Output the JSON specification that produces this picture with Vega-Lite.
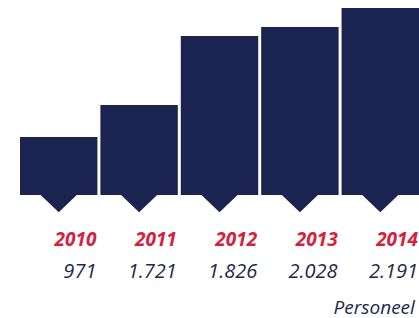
{
  "$schema": "https://vega.github.io/schema/vega-lite/v6.json",
  "width": 399,
  "height": 318,
  "autosize": {"type": "none"},
  "padding": {"left": 20, "top": 0, "right": 0, "bottom": 0},
  "background": "white",
  "config": {"view": {"stroke": null}},
  "data": {
    "values": [
      {"jaar": "2010", "omvang": 58, "personeel": "971"},
      {"jaar": "2011", "omvang": 90, "personeel": "1.721"},
      {"jaar": "2012", "omvang": 159, "personeel": "1.826"},
      {"jaar": "2013", "omvang": 168, "personeel": "2.028"},
      {"jaar": "2014", "omvang": 187, "personeel": "2.191"}
    ]
  },
  "encoding": {
    "x": {
      "field": "jaar",
      "type": "nominal",
      "axis": null,
      "scale": {"paddingInner": 0.037, "paddingOuter": 0}
    }
  },
  "layer": [
    {
      "mark": {"type": "bar", "color": "#1b2350"},
      "encoding": {
        "y": {
          "field": "omvang",
          "type": "quantitative",
          "axis": null,
          "scale": {"domain": [-123, 195], "nice": false, "zero": false}
        },
        "y2": {"datum": 0}
      }
    },
    {
      "mark": {
        "type": "point",
        "shape": "M-1,0L1,0L0,0.95Z",
        "size": 1300,
        "filled": true,
        "opacity": 1,
        "color": "#1b2350"
      },
      "encoding": {"y": {"datum": 0}}
    },
    {
      "mark": {
        "type": "text",
        "align": "right",
        "baseline": "middle",
        "font": "Open Sans",
        "fontSize": 19,
        "fontWeight": "bold",
        "fontStyle": "italic",
        "color": "#d4213d",
        "dx": -1
      },
      "encoding": {
        "x": {"field": "jaar", "type": "nominal", "bandPosition": 1},
        "y": {"datum": -45},
        "text": {"field": "jaar"}
      }
    },
    {
      "mark": {
        "type": "text",
        "align": "right",
        "baseline": "middle",
        "font": "Open Sans",
        "fontSize": 20,
        "fontWeight": "normal",
        "fontStyle": "italic",
        "color": "#232848",
        "dx": -1
      },
      "encoding": {
        "x": {"field": "jaar", "type": "nominal", "bandPosition": 1},
        "y": {"datum": -77},
        "text": {"field": "personeel"}
      }
    },
    {
      "data": {"values": [{"label": "Personeel"}]},
      "mark": {
        "type": "text",
        "align": "left",
        "baseline": "middle",
        "font": "Open Sans",
        "fontSize": 19,
        "fontWeight": "normal",
        "fontStyle": "italic",
        "color": "#232848",
        "dx": -8
      },
      "encoding": {
        "x": {"datum": "2014", "bandPosition": 0},
        "y": {"datum": -113},
        "text": {"field": "label"}
      }
    }
  ]
}
